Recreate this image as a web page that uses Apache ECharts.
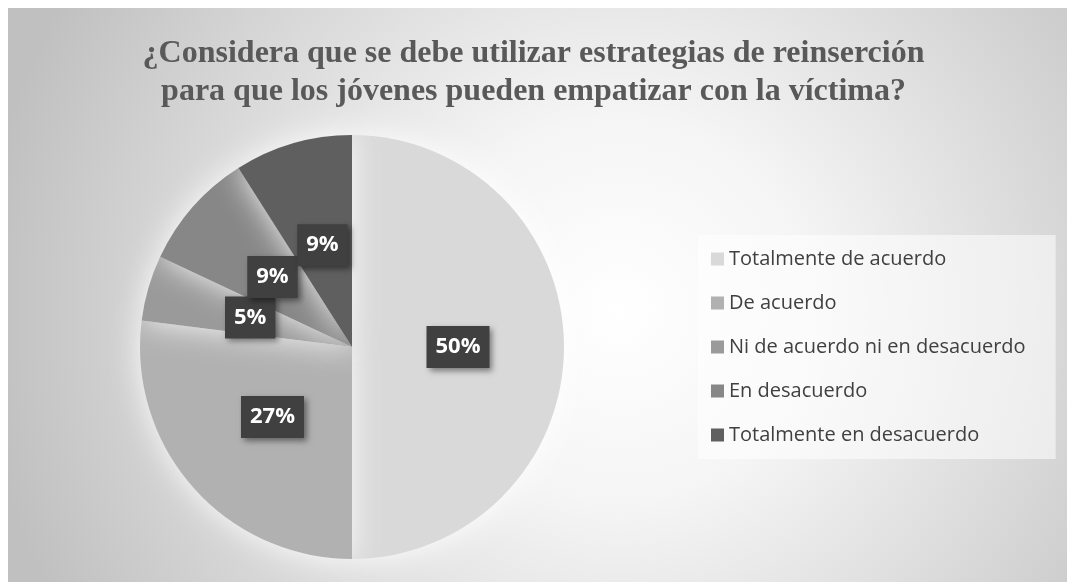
<!DOCTYPE html>
<html>
<head>
<meta charset="utf-8">
<script src="https://cdn.jsdelivr.net/npm/echarts@6/dist/echarts.min.js"></script>
<style>
	html, body { margin: 0; padding: 0; background: #ffffff; }
	#chart { width: 1067px; height: 582px; }
</style>
</head>
<body>
<div id="chart"></div>
<script>
// categories and percentages
const categories = [
	'Totalmente de acuerdo',
	'De acuerdo',
	'Ni de acuerdo ni en desacuerdo',
	'En desacuerdo',
	'Totalmente en desacuerdo'
];
const percents = [50, 27, 5, 9, 9];
const colors = ['#d9d9d9', '#b1b1b1', '#9a9a9a', '#878787', '#5f5f5f'];
const title = '¿Considera que se debe utilizar estrategias de reinserción\npara que los jóvenes pueden empatizar con la víctima?';

const center = [352, 347];
const radius = 212;

// mid angle of every slice (in percent of the circle), for the data labels
// the pie hides inside labels that do not fit the slice, so the labels sit on a polar scatter
let acc = 0;
const labelPoints = percents.map(p => {
	const mid = acc + p / 2;
	acc += p;
	return { value: [0.5, mid], pct: p };
});

const chart = echarts.init(document.getElementById('chart'));

let option = {
	animation: false,
	backgroundColor: '#ffffff',
	graphic: [
		{
			type: 'rect',
			z: -10,
			silent: true,
			shape: { x: 8, y: 8, width: 1059, height: 574 },
			style: {
				fill: new echarts.graphic.RadialGradient(620, 310, 640, [
					{ offset: 0, color: '#ffffff' },
					{ offset: 0.3, color: '#f5f5f5' },
					{ offset: 1, color: '#c0c0c0' }
				], true)
			}
		}
	],
	title: {
		text: title,
		left: 'center',
		top: 30,
		textStyle: {
			fontFamily: '"Liberation Serif", "DejaVu Serif", serif',
			fontWeight: 'bold',
			fontSize: 32,
			lineHeight: 38,
			color: '#595959'
		}
	},
	legend: {
		orient: 'vertical',
		left: 698,
		top: 235,
		padding: [13, 30, 13, 13],
		backgroundColor: 'rgba(255,255,255,0.55)',
		icon: 'rect',
		itemWidth: 13,
		itemHeight: 13,
		itemGap: 22,
		data: categories,
		textStyle: {
			fontFamily: '"Open Sans", sans-serif',
			fontSize: 20,
			lineHeight: 22,
			color: '#404040'
		}
	},
	polar: {
		center: center,
		radius: radius
	},
	angleAxis: {
		type: 'value',
		min: 0,
		max: 100,
		startAngle: 90,
		clockwise: true,
		show: false
	},
	radiusAxis: {
		type: 'value',
		min: 0,
		max: 1,
		show: false
	},
	series: [
		{
			type: 'pie',
			center: center,
			radius: [0, radius],
			startAngle: 90,
			clockwise: true,
			color: colors,
			itemStyle: {
				shadowBlur: 30,
				shadowColor: 'rgba(255,255,255,0.9)'
			},
			label: { show: false },
			labelLine: { show: false },
			emphasis: { disabled: true },
			data: categories.map((name, i) => ({ name: name, value: percents[i] }))
		},
		{
			type: 'scatter',
			coordinateSystem: 'polar',
			symbolSize: 1,
			itemStyle: { color: 'rgba(0,0,0,0)', opacity: 1 },
			silent: true,
			z: 5,
			label: {
				show: true,
				position: 'inside',
				formatter: p => p.data.pct + '%',
				fontFamily: '"Open Sans", sans-serif',
				fontWeight: 'bold',
				fontSize: 22,
				lineHeight: 22,
				color: '#ffffff',
				backgroundColor: '#404040',
				padding: [10, 9],
				shadowBlur: 6,
				shadowOffsetX: 3,
				shadowOffsetY: 3,
				shadowColor: 'rgba(0,0,0,0.45)'
			},
			data: labelPoints
		}
	]
};

chart.setOption(option);
window.addEventListener('resize', () => {
	chart.resize();
});
</script>
</body>
</html>
